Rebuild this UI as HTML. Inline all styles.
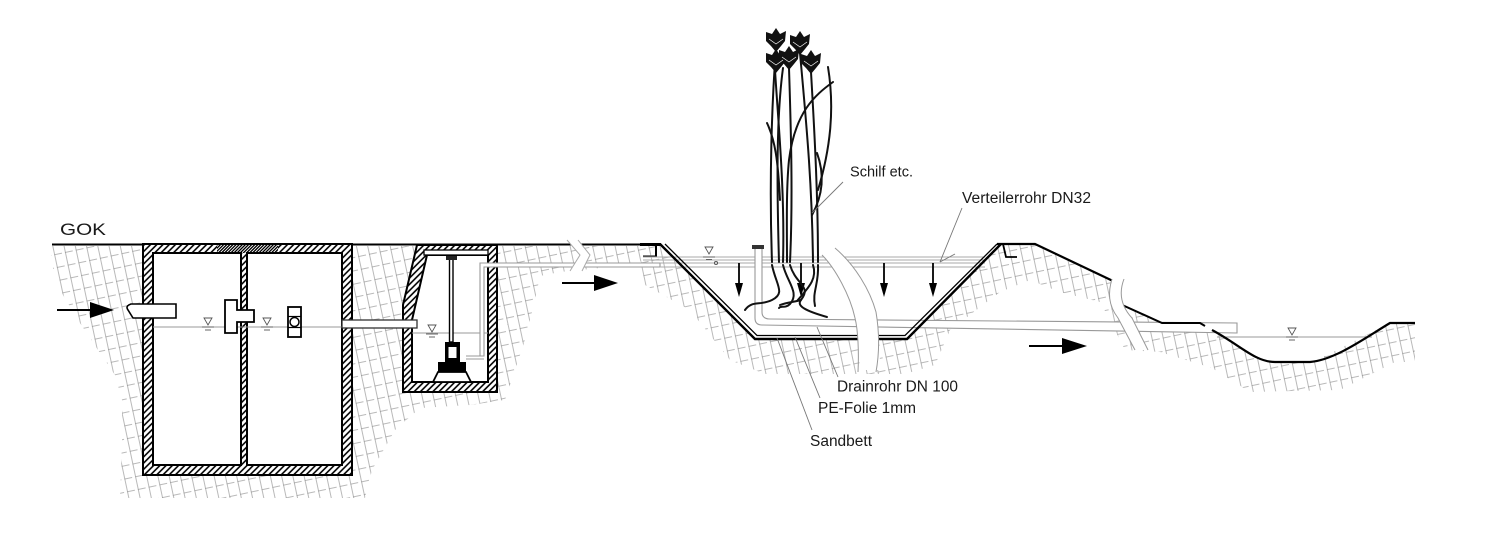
<!DOCTYPE html>
<html>
<head>
<meta charset="utf-8">
<style>
  html,body{margin:0;padding:0;background:#fff;}
  svg{display:block;}
  text{font-family:"Liberation Sans", Arial, sans-serif; fill:#1a1a1a;}
</style>
</head>
<body>
<svg width="1488" height="541" viewBox="0 0 1488 541" xmlns="http://www.w3.org/2000/svg">
  <defs>
    <pattern id="soil" patternUnits="userSpaceOnUse" width="11" height="13" patternTransform="rotate(-12)">
      <path d="M0.5,0 V13" stroke="#8a8a8a" stroke-width="0.6" fill="none"/>
      <path d="M0,0.5 H8" stroke="#8a8a8a" stroke-width="0.6" fill="none"/>
    </pattern>
    <pattern id="wall" patternUnits="userSpaceOnUse" width="4.4" height="4.4" patternTransform="rotate(45)">
      <rect width="4.4" height="4.4" fill="#fff"/>
      <line x1="2.2" y1="0" x2="2.2" y2="4.4" stroke="#000" stroke-width="1.6"/>
    </pattern>
    <pattern id="wallD" patternUnits="userSpaceOnUse" width="2.2" height="2.2" patternTransform="rotate(45)">
      <rect width="2.2" height="2.2" fill="#fff"/>
      <line x1="1.1" y1="0" x2="1.1" y2="2.2" stroke="#000" stroke-width="1.3"/>
    </pattern>
  </defs>

  <rect width="1488" height="541" fill="#fff"/>

  <!-- soil hatching -->
  <polygon fill="url(#soil)" points="50,246 660,246 650,256 640,262 600,268 560,272 540,276 535,300 525,340 515,370 505,400 470,405 420,408 395,430 372,470 365,498 120,498 122,440 122,400 115,375 98,350 78,320 60,290 52,265"/>
  <polygon fill="url(#soil)" points="643,256 656,256 656,246 660,246 755,339 907,339 1001,244 1035,244 1113,281 1120,304 1162,323 1205,325 1217,333 1267,362 1313,362 1390,323 1415,323 1415,362 1395,362 1340,390 1250,392 1212,368 1160,352 1125,350 1110,320 1100,302 1060,292 1030,280 1000,292 950,330 935,365 905,374 765,374 730,360 690,310 645,285 640,265"/>

  <!-- ground line -->
  <line x1="52" y1="244.5" x2="660" y2="244.5" stroke="#000" stroke-width="2"/>

  <!-- septic tank -->
  <rect x="143" y="244" width="209" height="231" fill="url(#wall)" stroke="#000" stroke-width="2"/>
  <rect x="217" y="245" width="61" height="8" fill="url(#wallD)"/>
  <rect x="153" y="253" width="88" height="212" fill="#fff" stroke="#000" stroke-width="2"/>
  <rect x="247" y="253" width="95" height="212" fill="#fff" stroke="#000" stroke-width="2"/>
  <line x1="153" y1="327" x2="342" y2="327" stroke="#999" stroke-width="1"/>
  <path d="M176,304 L131,304 Q125,306 128,310 L133,318 L176,318 Z" fill="#fff" stroke="#000" stroke-width="1.6"/>
  <path d="M225,300 H237 V310 H254 V322 H237 V333 H225 Z" fill="#fff" stroke="#000" stroke-width="1.8"/>
  <rect x="288" y="307" width="13" height="30" fill="#fff" stroke="#000" stroke-width="1.8"/>
  <line x1="288" y1="316.5" x2="301" y2="316.5" stroke="#000" stroke-width="1.2"/>
  <line x1="288" y1="327.5" x2="301" y2="327.5" stroke="#000" stroke-width="1.2"/>
  <circle cx="294.5" cy="322" r="4.5" fill="#fff" stroke="#000" stroke-width="1.5"/>
  <g stroke="#555" stroke-width="0.9" fill="none">
    <polygon points="204,318 212,318 208,325"/><line x1="202" y1="327" x2="214" y2="327"/><line x1="205" y1="330" x2="211" y2="330"/>
    <polygon points="263,318 271,318 267,325"/><line x1="261" y1="327" x2="273" y2="327"/><line x1="264" y1="330" x2="270" y2="330"/>
  </g>
  <line x1="57" y1="310" x2="92" y2="310" stroke="#000" stroke-width="2"/>
  <polygon points="90,302 114,310 90,318" fill="#000"/>

  <!-- pump chamber -->
  <polygon points="417,245 497,245 497,392 403,392 403,305" fill="url(#wall)" stroke="#000" stroke-width="2"/>
  <polygon points="427,255 488,255 488,382 412,382 412,320" fill="#fff" stroke="#000" stroke-width="2"/>
  <rect x="424" y="250" width="64" height="5" fill="#fff" stroke="#000" stroke-width="1.3"/>
  <line x1="412" y1="333" x2="488" y2="333" stroke="#999" stroke-width="1"/>
  <g stroke="#555" stroke-width="0.9" fill="none">
    <polygon points="428,325 436,325 432,332"/><line x1="426" y1="334" x2="438" y2="334"/><line x1="429" y1="337" x2="435" y2="337"/>
  </g>
  <rect x="342" y="320" width="75" height="8" fill="#fff" stroke="#333" stroke-width="1.3"/>
  <path d="M466,356 H484 V267 H660 V263 H480 V356" fill="#fff" stroke="#999" stroke-width="1.1"/>
  <path d="M466,359 H484" stroke="#999" stroke-width="1.1"/>
  <rect x="449.5" y="259" width="3.5" height="83" fill="#fff" stroke="#000" stroke-width="1.4"/>
  <rect x="446" y="256" width="11" height="4" fill="#222"/>
  <rect x="445" y="342" width="15" height="20" fill="#000"/>
  <rect x="448.5" y="347" width="8" height="11" fill="#fff"/>
  <rect x="438" y="362" width="28" height="10" fill="#000"/>
  <polygon points="438,372 466,372 471,382 433,382" fill="#fff" stroke="#000" stroke-width="1.8"/>

  <!-- ground break symbol -->
  <polygon points="567,240 580,255 570,271 582,271 590,255 578,240" fill="#fff" stroke="none"/>
  <polyline points="567,240 580,255 570,271" fill="none" stroke="#aaa" stroke-width="1"/>
  <polyline points="578,240 590,255 582,271" fill="none" stroke="#aaa" stroke-width="1"/>
  <line x1="562" y1="283" x2="596" y2="283" stroke="#000" stroke-width="2"/>
  <polygon points="594,275 618,283 594,291" fill="#000"/>

  <!-- basin -->
  <line x1="640" y1="244.5" x2="661" y2="244.5" stroke="#000" stroke-width="3"/>
  <path d="M656,244 V256.5 H643" fill="none" stroke="#000" stroke-width="2"/>
  <g stroke="#aaa" stroke-width="1">
    <line x1="643" y1="257" x2="985" y2="257"/>
    <line x1="643" y1="260" x2="985" y2="260"/>
    <line x1="660" y1="263" x2="985" y2="263"/>
    <line x1="660" y1="267" x2="985" y2="267"/>
  </g>
  <g stroke="#555" stroke-width="0.9" fill="none">
    <polygon points="705,247 713,247 709,254"/><line x1="703" y1="257" x2="715" y2="257"/><line x1="706" y1="259.5" x2="712" y2="259.5"/>
    <circle cx="716" cy="263" r="1.6"/>
  </g>
  <path d="M755,249 V318 Q755,325 762,325 L1237,333 V323 L770,319 Q762,319 762,312 V249" fill="#fff" stroke="#999" stroke-width="1.1"/>
  <rect x="752" y="245" width="12" height="4" fill="#333"/>
  <polyline points="660,244 755,339 907,339 1001,244" fill="none" stroke="#000" stroke-width="2.4"/>
  <polyline points="665,244 757,335.5 905,335.5 997,244" fill="none" stroke="#000" stroke-width="1.3"/>
  <polyline points="997,244 1035,244 1113,281" fill="none" stroke="#000" stroke-width="2.2"/>
  <path d="M1003,244 L1006,257 H1017" fill="none" stroke="#000" stroke-width="1.8"/>
  <polyline points="1120,304 1162,323 1200,323 1205,326" fill="none" stroke="#000" stroke-width="2"/>
  <line x1="1217" y1="337" x2="1372" y2="337" stroke="#999" stroke-width="1"/>
  <path d="M1212,330 C1240,345 1255,362 1275,362 L1310,362 C1335,360 1365,338 1390,323 L1415,323" fill="none" stroke="#000" stroke-width="2.2"/>
  <g stroke="#555" stroke-width="0.9" fill="none">
    <polygon points="1288,328 1296,328 1292,335"/><line x1="1286" y1="337" x2="1298" y2="337"/><line x1="1289" y1="340" x2="1295" y2="340"/>
  </g>

  <!-- down arrows -->
  <g stroke="#000" stroke-width="1.8">
    <line x1="739" y1="263" x2="739" y2="285"/>
    <line x1="801" y1="263" x2="801" y2="285"/>
    <line x1="884" y1="263" x2="884" y2="285"/>
    <line x1="933" y1="263" x2="933" y2="285"/>
  </g>
  <g fill="#000">
    <polygon points="735,283 743,283 739,297"/>
    <polygon points="797,283 805,283 801,297"/>
    <polygon points="880,283 888,283 884,297"/>
    <polygon points="929,283 937,283 933,297"/>
  </g>

  <!-- basin break band -->
  <path d="M822,255 C835,268 850,295 855,318 C858,330 859,352 860,370 L880,370 C880,350 879,330 876,312 C870,290 855,265 835,248 Z" fill="#fff"/>
  <path d="M822,255 C835,268 850,295 855,318 C858,330 859,352 858,372" fill="none" stroke="#999" stroke-width="1"/>
  <path d="M835,248 C855,265 870,290 876,312 C879,330 880,350 876,372" fill="none" stroke="#999" stroke-width="1"/>

  <!-- berm break band -->
  <path d="M1112,279 C1108,292 1108,305 1118,318 L1135,350 L1148,350 L1132,318 C1120,305 1119,292 1124,279 Z" fill="#fff"/>
  <path d="M1112,279 C1108,292 1108,305 1118,318 L1135,350" fill="none" stroke="#999" stroke-width="1"/>
  <path d="M1124,279 C1119,292 1120,305 1132,318 L1148,350" fill="none" stroke="#999" stroke-width="1"/>

  <line x1="1029" y1="346" x2="1064" y2="346" stroke="#000" stroke-width="2"/>
  <polygon points="1062,338 1087,346 1062,354" fill="#000"/>

  <!-- reeds: stems -->
  <g fill="none" stroke="#111" stroke-width="2" stroke-linecap="round">
    <path d="M776,48 C772,100 769,180 772,262"/>
    <path d="M775,70 C778,120 785,190 783,262"/>
    <path d="M789,68 C791,130 793,200 790,262"/>
    <path d="M800,53 C806,120 812,180 813,262"/>
    <path d="M811,72 C815,140 818,200 818,262"/>
    <path d="M833,82 C815,95 795,112 789,160 C786,190 787,230 787,262"/>
    <path d="M828,67 C835,110 830,150 818,190"/>
    <path d="M767,123 C775,140 778,160 780,200"/>
    <path d="M817,153 C825,175 823,195 812,215"/>
    <path d="M783,68 C776,120 777,190 779,262"/>
    <path d="M772,265 C776,285 786,293 772,300 C760,306 752,300 745,310"/>
    <path d="M783,265 C787,282 800,293 790,304 C785,309 781,305 779,308"/>
    <path d="M790,265 C796,285 812,286 801,300 C796,306 806,311 827,317"/>
    <path d="M813,265 C818,280 806,290 797,301"/>
    <path d="M818,265 C819,284 812,292 815,306"/>
    <path d="M801,300 C795,302 788,302 780,305"/>
  </g>
  <!-- reed heads -->
  <g fill="#111">
    <path d="M766,32 L772,34 L776,28 L780,34 L786,31 L785,41 L781,46 L776,52 L771,46 L766,41 Z"/>
    <path d="M790,35 L796,37 L800,31 L804,37 L810,34 L809,44 L805,49 L800,55 L795,49 L790,44 Z"/>
    <path d="M766,53 L772,55 L776,49 L780,55 L786,52 L785,62 L781,67 L776,73 L771,67 L766,62 Z"/>
    <path d="M779,50 L785,52 L789,46 L793,52 L799,49 L798,59 L794,64 L789,70 L784,64 L779,59 Z"/>
    <path d="M801,54 L807,56 L811,50 L815,56 L821,53 L820,63 L816,68 L811,74 L806,68 L801,63 Z"/>
  </g>
  <g stroke="#fff" stroke-width="0.7" fill="none">
    <path d="M769,39 L776,44 L783,39"/><path d="M793,42 L800,47 L807,42"/>
    <path d="M769,60 L776,65 L783,60"/><path d="M782,57 L789,62 L796,57"/>
    <path d="M804,61 L811,66 L818,61"/>
  </g>

  <!-- leader lines -->
  <g stroke="#777" stroke-width="0.9">
    <line x1="843" y1="182" x2="812" y2="213"/>
    <line x1="962" y1="208" x2="940" y2="262"/>
    <line x1="940" y1="262" x2="955" y2="254"/>
    <line x1="838" y1="377" x2="817" y2="327"/>
    <line x1="820" y1="398" x2="795" y2="337"/>
    <line x1="812" y1="430" x2="777" y2="338"/>
  </g>

  <!-- labels -->
  <text x="60" y="235" font-size="17" textLength="46" lengthAdjust="spacingAndGlyphs">GOK</text>
  <text x="850" y="176.5" font-size="15" textLength="63" lengthAdjust="spacingAndGlyphs">Schilf etc.</text>
  <text x="962" y="203" font-size="15.5" textLength="129" lengthAdjust="spacingAndGlyphs">Verteilerrohr DN32</text>
  <text x="837" y="391.5" font-size="15.5" textLength="121" lengthAdjust="spacingAndGlyphs">Drainrohr DN 100</text>
  <text x="818" y="413" font-size="15.5" textLength="98" lengthAdjust="spacingAndGlyphs">PE-Folie 1mm</text>
  <text x="810" y="446" font-size="15.5" textLength="62" lengthAdjust="spacingAndGlyphs">Sandbett</text>
</svg>
</body>
</html>
